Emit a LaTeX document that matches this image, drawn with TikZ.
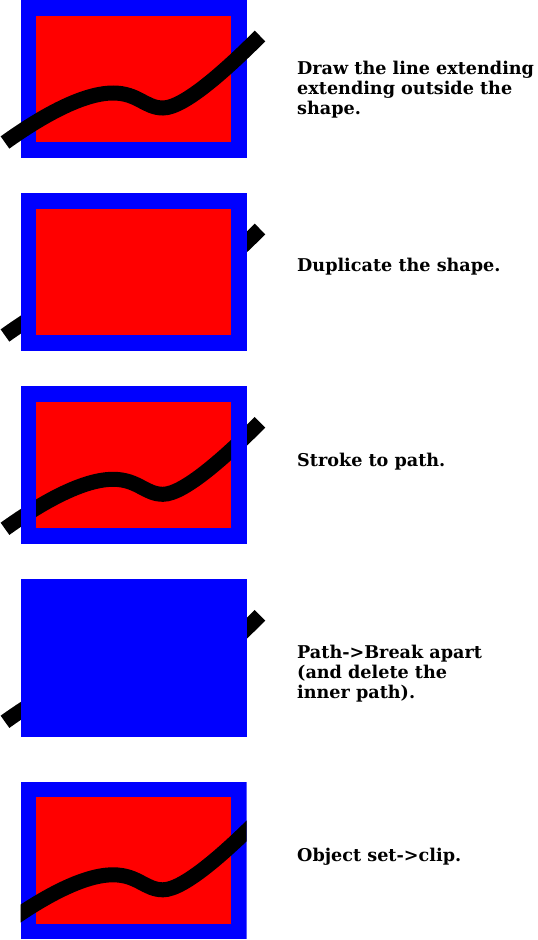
\documentclass[tikz,border=0pt]{standalone}
\usepackage{fontspec}
\newfontfamily\labfont{DejaVu Serif Bold}
\begin{document}
\begin{tikzpicture}[x=1pt,y=-1pt,
  wave/.style={line width=15pt,line cap=butt,draw=black},
  outerbox/.style={fill={rgb,255:red,0;green,0;blue,255}},
  innerbox/.style={fill={rgb,255:red,255;green,0;blue,0}},
  lab/.style={anchor=base west,inner sep=0pt,align=left,font=\labfont\fontsize{17.6}{19.9}\selectfont}]
\useasboundingbox (0,0) rectangle (538,940);
\def\wavecurve{(5,142.5) .. controls (35,121) and (80,93) .. (113,93) .. controls (138,93) and (145,108) .. (163,108) .. controls (185,108) and (230,66) .. (260,36)}
\def\outerrect{(20.5,0) rectangle (246.5,157.5)}
\def\innerrect{(36,15.5) rectangle (231,142)}
% panel 1
\begin{scope}
  \fill[outerbox] \outerrect;
  \fill[innerbox] \innerrect;
  \draw[wave] \wavecurve;
\end{scope}
% panel 2
\begin{scope}[shift={(0,193)}]
  \draw[wave] \wavecurve;
  \fill[outerbox] \outerrect;
  \fill[innerbox] \innerrect;
\end{scope}
% panel 3
\begin{scope}[shift={(0,386.3)}]
  \draw[wave] \wavecurve;
  \fill[outerbox] \outerrect;
  \begin{scope}
    \clip \innerrect;
    \fill[innerbox] \innerrect;
    \draw[wave] \wavecurve;
  \end{scope}
\end{scope}
% panel 4
\begin{scope}[shift={(0,579.3)}]
  \draw[wave] \wavecurve;
  \fill[outerbox] \outerrect;
\end{scope}
% panel 5
\begin{scope}[shift={(0,781.8)}]
  \clip \outerrect;
  \fill[outerbox] \outerrect;
  \fill[innerbox] \innerrect;
  \draw[wave] \wavecurve;
\end{scope}
% labels (base anchor = baseline of the last line)
\node[lab] (t1) at (297,114.1) {Draw the line extending\\extending outside the\\shape.};
\node[lab] (t2) at (297,271) {Duplicate the shape.};
\node[lab] (t3) at (297,466) {Stroke to path.};
\node[lab] (t4) at (297,698.3) {Path->Break apart\\(and delete the\\inner path).};
\node[lab] (t5) at (297,861.7) {Object set->clip.};
\end{tikzpicture}
\end{document}
